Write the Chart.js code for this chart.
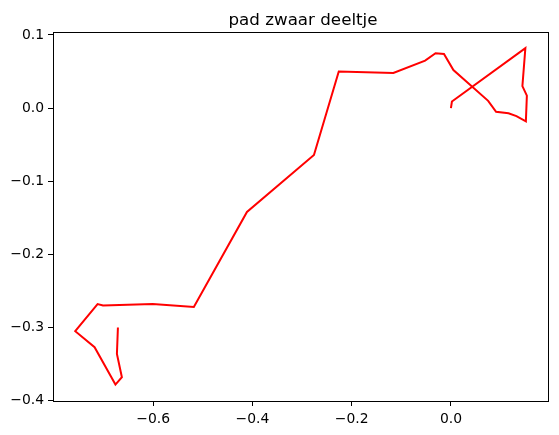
<!DOCTYPE html>
<html>
<head>
<meta charset="utf-8">
<script src="https://cdn.jsdelivr.net/npm/chart.js@4.4.1/dist/chart.umd.min.js"></script>
<style>
    body { margin: 0; background: #fff; }
    canvas { display: block; }
</style>
</head>
<body>
<canvas id="path-chart" width="559" height="435"></canvas>
<script>
// pad van het zware deeltje
const xs = [0.000, 0.002, 0.150, 0.144, 0.153, 0.151, 0.132, 0.116, 0.091, 0.075,
    0.005, -0.014, -0.031, -0.052, -0.116, -0.226, -0.276, -0.411, -0.518, -0.601,
    -0.701, -0.712, -0.757, -0.718, -0.676, -0.663, -0.673, -0.671];
const ys = [0.000, 0.009, 0.082, 0.030, 0.017, -0.018, -0.011, -0.007, -0.005, 0.010,
    0.052, 0.074, 0.075, 0.065, 0.048, 0.050, -0.064, -0.142, -0.272, -0.268,
    -0.270, -0.268, -0.305, -0.327, -0.378, -0.368, -0.336, -0.300];

const xTicks = [-0.6, -0.4, -0.2, 0.0];
const yTicks = [-0.4, -0.3, -0.2, -0.1, 0.0, 0.1];
const title = 'pad zwaar deeltje';

const fmt = (v) => {
    let s = Math.abs(v) < 1e-9 ? '0.0' : v.toFixed(1);
    return s.replace('-', '\u2212');
}

// matplotlib-achtige kader + titel
const frame = {
    id: 'frame',
    afterDraw(chart) {
        const { ctx, chartArea } = chart;
        ctx.save();
        ctx.strokeStyle = '#000';
        ctx.lineWidth = 1;
        ctx.strokeRect(chartArea.left + 0.5, chartArea.top + 0.5,
            chartArea.right - chartArea.left - 1, chartArea.bottom - chartArea.top);
        ctx.fillStyle = '#000';
        ctx.font = '16.7px "DejaVu Sans"';
        ctx.textAlign = 'center';
        ctx.textBaseline = 'alphabetic';
        ctx.fillText(title, (chartArea.left + chartArea.right) / 2 + 2, 25);
        ctx.restore();
    }
}

const points = xs.map((x, i) => ({ x: x, y: ys[i] }));

const tickFont = { family: 'DejaVu Sans', size: 13.9 };

new Chart(document.getElementById('path-chart').getContext('2d'), {
    type: 'scatter',
    data: {
        datasets: [{
            data: points,
            showLine: true,
            borderColor: 'rgb(255, 0, 0)',
            borderWidth: 2,
            pointRadius: 0,
            fill: false,
            tension: 0,
        }]
    },
    options: {
        responsive: false,
        animation: false,
        layout: {
            padding: { top: 32, right: 10, left: 0, bottom: 0 }
        },
        plugins: {
            legend: { display: false },
            title: { display: false },
            tooltip: { enabled: false }
        },
        scales: {
            x: {
                type: 'linear',
                min: -0.8018,
                max: 0.1976,
                afterFit: (scale) => { scale.height = 34; },
                afterBuildTicks: (scale) => { scale.ticks = xTicks.map(v => ({ value: v })); },
                grid: {
                    drawOnChartArea: false,
                    drawTicks: true,
                    tickLength: 5,
                    color: '#000',
                },
                border: { display: false },
                ticks: {
                    color: '#000',
                    font: tickFont,
                    padding: 5,
                    maxRotation: 0,
                    callback: (v) => fmt(v),
                }
            },
            y: {
                type: 'linear',
                min: -0.4005,
                max: 0.1041,
                afterFit: (scale) => { scale.width = 53; },
                afterBuildTicks: (scale) => { scale.ticks = yTicks.map(v => ({ value: v })); },
                grid: {
                    drawOnChartArea: false,
                    drawTicks: true,
                    tickLength: 5,
                    color: '#000',
                },
                border: { display: false },
                ticks: {
                    color: '#000',
                    font: tickFont,
                    padding: 4,
                    callback: (v) => fmt(v),
                }
            }
        }
    },
    plugins: [frame]
});
</script>
</body>
</html>
